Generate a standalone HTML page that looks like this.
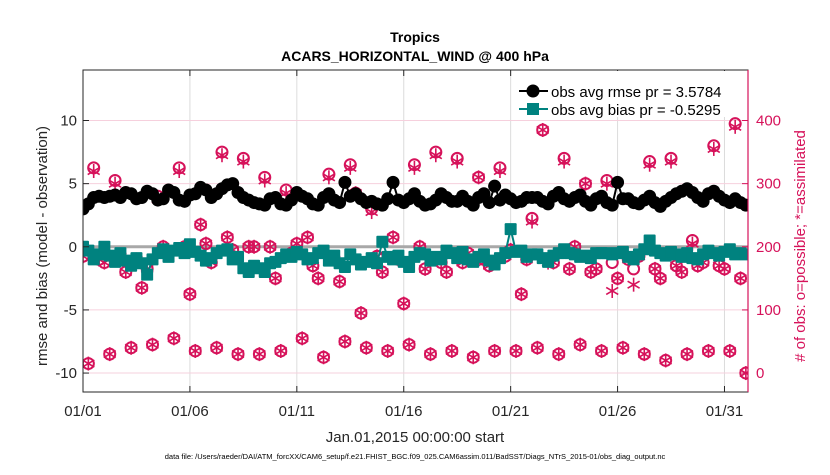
<!DOCTYPE html>
<html><head><meta charset="utf-8">
<style>
body{margin:0;background:#fff;}
svg text{font-family:"Liberation Sans",Arial,sans-serif;}
</style></head>
<body>
<svg id="chart" width="830" height="470" viewBox="0 0 830 470" xmlns="http://www.w3.org/2000/svg">
<defs><clipPath id="plotclip"><rect x="83" y="70" width="665" height="322"/></clipPath></defs>
<rect x="0" y="0" width="830" height="470" fill="#fff"/>
<g id="grid"></g>
<g id="series" clip-path="url(#plotclip)"></g>
<g id="axes"></g>
<text x="415" y="42" text-anchor="middle" font-size="14" font-weight="bold">Tropics</text>
<text x="415" y="61" text-anchor="middle" font-size="14" font-weight="bold">ACARS_HORIZONTAL_WIND @ 400 hPa</text>
<text x="415" y="442" text-anchor="middle" font-size="15" fill="#262626">Jan.01,2015 00:00:00 start</text>
<text x="415" y="459" text-anchor="middle" font-size="7.5" fill="#000">data file: /Users/raeder/DAI/ATM_forcXX/CAM6_setup/f.e21.FHIST_BGC.f09_025.CAM6assim.011/BadSST/Diags_NTrS_2015-01/obs_diag_output.nc</text>
<text transform="translate(47,246) rotate(-90)" text-anchor="middle" font-size="15" fill="#262626">rmse and bias (model - observation)</text>
<text transform="translate(805,246) rotate(-90)" text-anchor="middle" font-size="15" fill="#d6125a"># of obs: o=possible; *=assimilated</text>
<g id="legend"></g>
</svg>
<script>
const rmse=[3.0,3.4,3.9,4.0,3.9,
4.0,4.1,3.9,4.3,4.2,
3.8,3.9,4.4,4.2,3.7,
3.8,4.5,4.3,3.7,3.6,
4.1,4.2,4.7,4.5,3.9,
4.2,4.6,4.9,5.0,4.3,
3.9,3.7,3.5,3.4,3.3,
3.8,3.9,3.4,3.3,3.7,
4.3,4.0,3.8,3.4,3.3,
3.9,4.2,3.7,3.5,5.1,
4.0,4.2,3.8,3.5,3.6,
3.4,3.3,3.8,5.1,3.7,
3.5,3.8,4.2,3.6,3.3,
3.4,3.7,4.2,3.9,3.6,
3.6,4.0,3.6,3.3,3.9,
4.2,3.5,4.8,3.7,4.1,
3.8,3.5,3.6,3.9,3.9,
3.9,3.6,3.4,4.0,4.3,
3.8,3.6,3.9,4.1,3.6,
3.3,3.8,4.0,3.5,3.3,
5.1,3.8,3.8,3.5,3.4,
3.7,4.0,3.5,3.2,3.6,
3.9,4.2,4.4,4.6,4.3,
3.9,3.6,4.2,4.4,4.0,
3.7,3.5,3.8,3.5,3.3];
const bias=[0.0,-0.3,-1.0,-0.6,0.0,
-0.7,-1.2,-0.5,-1.1,-1.5,
-0.9,-1.3,-2.2,-1.0,-0.5,
-0.2,-0.8,-0.3,-0.1,-0.5,
0.2,-0.4,-0.7,-1.1,-0.9,
-0.5,-0.3,-0.2,-1.0,-0.8,
-1.7,-2.0,-1.5,-1.7,-2.0,
-1.3,-1.2,-0.9,-0.6,-0.8,
-0.4,-0.6,-1.0,-0.9,-0.5,
-0.3,-1.1,-0.7,-1.3,-1.6,
-0.6,-1.0,-1.4,-1.2,-0.9,
-1.3,0.4,-0.8,-1.0,-0.7,
-1.2,-1.6,-0.8,-0.5,-0.6,
-1.1,-0.8,-1.0,-0.3,-0.5,
-0.9,-0.4,-1.0,-1.2,-0.8,
-0.6,-1.1,-1.4,-0.9,-0.5,
1.4,-0.4,-0.3,-0.8,-0.6,
-0.6,-0.9,-1.2,-0.7,-0.5,
-0.2,-0.5,-0.6,-0.8,-0.7,
-0.9,-0.5,-0.5,-0.5,-0.6,
-0.5,-0.4,-0.8,-1.0,-0.6,
-0.2,0.5,-0.3,-0.5,-0.7,
-0.4,-0.6,-0.8,-0.5,-0.9,
-1.0,-0.6,-0.3,-0.5,-0.7,
-0.4,-0.2,-0.6,-0.5,-0.6];
const possible=[185,15,325,180, 175,30,305,185, 160,40,180,135, 165,45,280,200, 190,55,325,200, 125,35,235,205, 175,40,350,215, 195,30,340,200, 200,30,310,200, 150,35,290,190, 205,55,215,170, 150,25,315,180, 145,50,330,285, 95,40,260,185, 160,35,215,180, 110,45,330,200, 165,30,350,175, 160,35,340,175, 190,25,310,180, 170,35,325,185, 195,35,125,180, 245,40,385,180, 175,30,340,165, 200,45,300,160, 165,35,305,175, 150,40,180,165, 185,30,335,165, 150,20,340,170, 160,30,210,170, 175,35,360,170, 165,35,395,150, 0];
const assimilated=[185,15,320,180, 175,30,300,185, 160,40,180,135, 165,45,275,200, 190,55,320,200, 125,35,235,205, 175,40,345,215, 195,30,335,200, 200,30,305,200, 150,35,285,190, 205,55,215,170, 150,25,310,180, 145,50,325,285, 95,40,255,185, 160,35,215,180, 110,45,325,200, 165,30,345,175, 160,35,335,175, 190,25,310,175, 170,35,320,185, 195,35,125,180, 240,40,385,175, 175,30,335,165, 200,45,300,160, 165,35,300,130, 150,40,180,140, 185,30,330,165, 150,20,335,170, 160,30,205,170, 175,35,355,170, 165,35,390,150, 0];
const xTicks=[0,5,10,15,20,25,30];
const xTickLabels=["01/01","01/06","01/11","01/16","01/21","01/26","01/31"];
const yTicks=[-10,-5,0,5,10];
const y2Ticks=[0,100,200,300,400];
const stepDays=0.25;

const L=83,R=748,T=70,B=392;
const xMin=0,xMax=31.1,yMin=-11.5,yMax=14,y2Min=-30,y2Max=480;
const xs=d=>L+(d-xMin)/(xMax-xMin)*(R-L);
const ys=v=>B-(v-yMin)/(yMax-yMin)*(B-T);
const ys2=v=>B-(v-y2Min)/(y2Max-y2Min)*(B-T);
const NS="http://www.w3.org/2000/svg";
function mk(tag,attrs,parent){const e=document.createElementNS(NS,tag);for(const k in attrs)e.setAttribute(k,attrs[k]);parent.appendChild(e);return e;}
const grid=document.getElementById('grid'),series=document.getElementById('series'),axes=document.getElementById('axes'),legend=document.getElementById('legend');
const PINK="#d6125a",TEAL="#00827f";

xTicks.forEach(t=>{const l=mk('line',{x1:xs(t),x2:xs(t),y1:T,y2:B,stroke:'#dcdcdc','stroke-width':1},grid);

});
y2Ticks.forEach(t=>{const l=mk('line',{x1:L,x2:R,y1:ys2(t),y2:ys2(t),stroke:'#f6d0dd','stroke-width':1},grid);

});
const zl=mk('line',{x1:L,x2:R,y1:ys(0),y2:ys(0),stroke:'#a8a8a8','stroke-width':3},grid);



possible.forEach((v,i)=>{const c=mk('circle',{cx:xs(i*stepDays),cy:ys2(v),r:5.5,fill:'none',stroke:PINK,'stroke-width':2},series);

});
assimilated.forEach((v,i)=>{const x=xs(i*stepDays),y=ys2(v);const g=mk('g',{stroke:PINK,'stroke-width':1.6},series);


[[0,-7,0,7],[-6,-3.5,6,3.5],[-6,3.5,6,-3.5]].forEach(s=>mk('line',{x1:x+s[0],y1:y+s[1],x2:x+s[2],y2:y+s[3]},g));});

const bp=bias.map((v,i)=>xs(i*stepDays)+','+ys(v)).join(' ');
const bl=mk('polyline',{points:bp,fill:'none',stroke:TEAL,'stroke-width':2},series);


bias.forEach((v,i)=>{const r=mk('rect',{x:xs(i*stepDays)-6,y:ys(v)-6,width:12,height:12,fill:TEAL,rx:1},series);

});
const rp=rmse.map((v,i)=>xs(i*stepDays)+','+ys(v)).join(' ');
const rl=mk('polyline',{points:rp,fill:'none',stroke:'#000','stroke-width':2},series);


rmse.forEach((v,i)=>{const c=mk('circle',{cx:xs(i*stepDays),cy:ys(v),r:6.5,fill:'#000'},series);

});

mk('rect',{x:L,y:T,width:R-L,height:B-T,fill:'none',stroke:'#262626','stroke-width':1},axes);
const ra=mk('line',{x1:R,x2:R,y1:T,y2:B,stroke:PINK,'stroke-width':1.2},axes);


xTicks.forEach((t,i)=>{mk('line',{x1:xs(t),x2:xs(t),y1:B,y2:B-6,stroke:'#262626'},axes);mk('line',{x1:xs(t),x2:xs(t),y1:T,y2:T+6,stroke:'#262626'},axes);
const tx=mk('text',{x:xs(t),y:B+24,'text-anchor':'middle','font-size':15,fill:'#262626'},axes);tx.textContent=xTickLabels[i];

});
yTicks.forEach(t=>{mk('line',{x1:L,x2:L+6,y1:ys(t),y2:ys(t),stroke:'#262626'},axes);
const tx=mk('text',{x:L-6,y:ys(t)+5,'text-anchor':'end','font-size':15,fill:'#262626'},axes);tx.textContent=t;

});
y2Ticks.forEach(t=>{mk('line',{x1:R,x2:R-6,y1:ys2(t),y2:ys2(t),stroke:PINK},axes);
const tx=mk('text',{x:R+8,y:ys2(t)+5,'text-anchor':'start','font-size':15,fill:PINK},axes);tx.textContent=t;

});

mk('rect',{x:513,y:T+1,width:234,height:46,fill:'#fff'},legend);
mk('line',{x1:519,x2:548,y1:91,y2:91,stroke:'#000','stroke-width':2},legend);
mk('circle',{cx:533,cy:91,r:6.5,fill:'#000'},legend);
const lt1=mk('text',{x:551,y:97,'font-size':15,fill:'#000'},legend);lt1.textContent='obs avg rmse pr = 3.5784';


mk('line',{x1:519,x2:548,y1:109,y2:109,stroke:TEAL,'stroke-width':2},legend);
mk('rect',{x:527,y:103,width:12,height:12,fill:TEAL},legend);
const lt2=mk('text',{x:551,y:115,'font-size':15,fill:'#000'},legend);lt2.textContent='obs avg bias pr = -0.5295';


</script>
</body></html>
